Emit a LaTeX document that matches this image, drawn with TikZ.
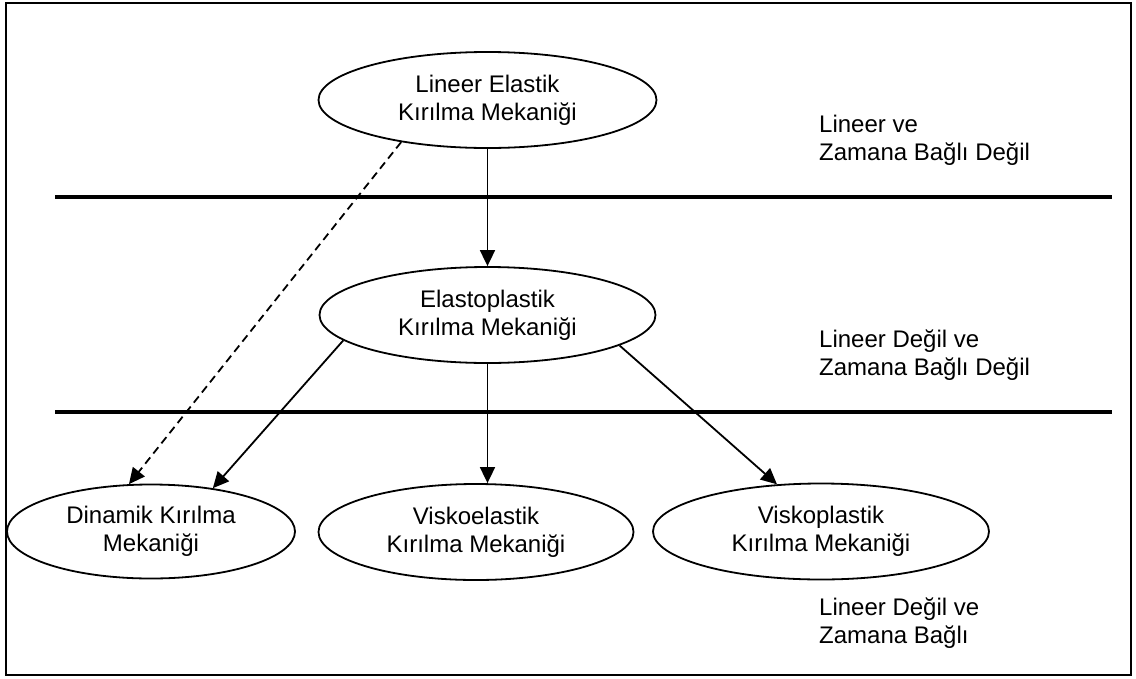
\documentclass[tikz,border=0pt]{standalone}
\usepackage{fontspec}
\setmainfont{Liberation Sans}
\usetikzlibrary{shapes.geometric,arrows.meta}
\begin{document}
\begin{tikzpicture}[x=1pt,y=-1pt,
  ell/.style={draw=black,line width=1.8pt,ellipse,inner sep=0pt,align=center,
    font=\fontsize{24}{28}\selectfont},
  conn/.style={line width=1.8pt,-{Triangle[length=16pt,width=15pt]}},
  sep/.style={line width=4pt},
  lbl/.style={anchor=north west,inner sep=0pt,align=left,
    font=\fontsize{24}{28}\selectfont}]
\useasboundingbox (0,0) rectangle (1136,678);
\draw[line width=2pt] (6,3) rectangle (1131,675);

% separator lines
\coordinate (s1a) at (55,196.5);
\coordinate (s1b) at (1112,196.5);
\coordinate (s2a) at (55,411.5);
\coordinate (s2b) at (1112,411.5);
\draw[sep] (s1a) -- (s1b);
\draw[sep] (s2a) -- (s2b);

% ellipses
\node[ell,minimum width=338pt,minimum height=96pt] (lefm) at (487.5,100)
  {Lineer Elastik\\Kırılma Mekaniği};
\node[ell,minimum width=336pt,minimum height=96pt] (epfm) at (487.5,315)
  {Elastoplastik\\Kırılma Mekaniği};
\node[ell,minimum width=288pt,minimum height=94pt] (dkm) at (151,531.5)
  {Dinamik Kırılma\\Mekaniği};
\node[ell,minimum width=315pt,minimum height=96pt] (vekm) at (476,532)
  {Viskoelastik\\Kırılma Mekaniği};
\node[ell,minimum width=336pt,minimum height=96pt] (vpkm) at (821,531.5)
  {Viskoplastik\\Kırılma Mekaniği};

% labels
\node[lbl] (l1) at (819,114.5) {Lineer ve\\Zamana Bağlı Değil};
\node[lbl] (l2) at (819,329.5) {Lineer Değil ve\\Zamana Bağlı Değil};
\node[lbl] (l3) at (819,597.5) {Lineer Değil ve\\Zamana Bağlı};

% connectors
\draw[conn] (lefm.south) -- (epfm.north);
\draw[conn,dash pattern=on 8pt off 5pt] (lefm.206.6) -- (dkm.115.6);
\draw[conn] (epfm.190.5) -- (dkm.35.3);
\draw[conn] (epfm.south) -- (epfm.south |- vekm.north);
\draw[conn] (epfm.-13.8) -- (vpkm.133.5);
\end{tikzpicture}
\end{document}
